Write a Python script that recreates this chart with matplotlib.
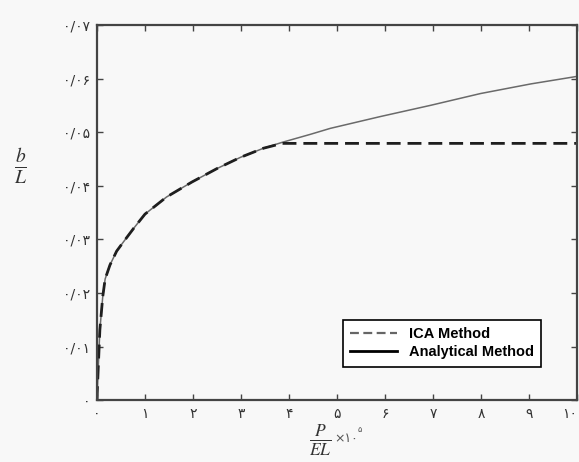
import matplotlib
matplotlib.use('Agg')
import matplotlib.pyplot as plt
from matplotlib.lines import Line2D

# load ratio P/EL (x 10^5) and b/L
analytical_x = [0, 0.01, 0.03, 0.06, 0.12, 0.17, 0.27, 0.41, 0.55, 0.76, 1.0, 1.45,
                1.98, 2.5, 2.99, 3.47, 3.86, 4.45, 4.86, 5.9, 6.95, 7.99, 9.04, 10]
analytical_y = [0, 0.0025, 0.0068, 0.0131, 0.0193, 0.0226, 0.0252, 0.0278, 0.0295, 0.0320,
                0.0347, 0.0379, 0.0407, 0.0432, 0.0453, 0.047, 0.0481, 0.0496, 0.0507,
                0.0529, 0.055, 0.0572, 0.059, 0.0604]
ica_x = [0, 0.01, 0.03, 0.06, 0.12, 0.17, 0.27, 0.41, 0.55, 0.76, 1.0, 1.45,
         1.98, 2.5, 2.99, 3.47, 3.86, 10]
ica_y = [0, 0.0025, 0.0068, 0.0131, 0.0193, 0.0226, 0.0252, 0.0278, 0.0295, 0.0320,
         0.0347, 0.0379, 0.0407, 0.0432, 0.0453, 0.047, 0.0479, 0.0479]

x_ticks = [0, 1, 2, 3, 4, 5, 6, 7, 8, 9, 10]
x_labels = ['۰', '۱', '۲', '۳', '۴', '۵', '۶', '۷', '۸', '۹', '۱۰']
y_ticks = [0, 0.01, 0.02, 0.03, 0.04, 0.05, 0.06, 0.07]
y_labels = ['۰', '۰/۰۱', '۰/۰۲', '۰/۰۳', '۰/۰۴', '۰/۰۵', '۰/۰۶', '۰/۰۷']

plt.rcParams['mathtext.fontset'] = 'stix'

fig = plt.figure(figsize=(5.79, 4.62), dpi=100, facecolor='#f8f8f8')
ax = fig.add_axes([0.1675, 0.134, 0.829, 0.812])
ax.set_facecolor('#f8f8f8')

ax.plot(analytical_x, analytical_y, color='#6a6a6a', lw=1.1)
ax.plot(ica_x, ica_y, color='#1e1e1e', lw=2.0, dashes=(5, 2.5))

ax.set_xlim(0, 10)
ax.set_ylim(0, 0.07)
ax.set_xticks(x_ticks)
ax.set_xticklabels(x_labels, family=['DejaVu Sans'], fontsize=10, color='#333333')
ax.set_yticks(y_ticks)
ax.set_yticklabels(y_labels, family=['DejaVu Sans'], fontsize=10, color='#333333')
ax.get_xticklabels()[-1].set_horizontalalignment('right')
ax.tick_params(direction='in', length=4, width=1, top=True, right=True,
               color='#444444', pad=5)
for s in ax.spines.values():
    s.set_color('#444444')
    s.set_linewidth(1.6)

handles = [Line2D([], [], color='#666666', lw=1.6, dashes=(4, 2)),
           Line2D([], [], color='black', lw=2.0)]
leg = ax.legend(handles, ['ICA Method', 'Analytical Method'],
                loc='lower right', bbox_to_anchor=(0.94, 0.07),
                prop={'family': 'Liberation Sans', 'weight': 'bold', 'size': 10.5},
                fancybox=False, edgecolor='black', framealpha=1,
                handlelength=3.2, borderpad=0.5, labelspacing=0.3)
leg.get_frame().set_linewidth(1.2)

fig.text(0.035, 0.64, r'$\frac{b}{L}$', fontsize=20, color='#333333',
         ha='center', va='center')
fig.text(0.553, 0.047, r'$\frac{P}{EL}$', fontsize=18, color='#333333',
         ha='center', va='center')
fig.text(0.578, 0.05, '×۱۰', family=['DejaVu Sans'], fontsize=9,
         color='#555555', ha='left', va='center')
fig.text(0.617, 0.07, '۵', family=['DejaVu Sans'], fontsize=6,
         color='#555555', ha='left', va='center')

plt.savefig('out.png', dpi=100, facecolor=fig.get_facecolor())
